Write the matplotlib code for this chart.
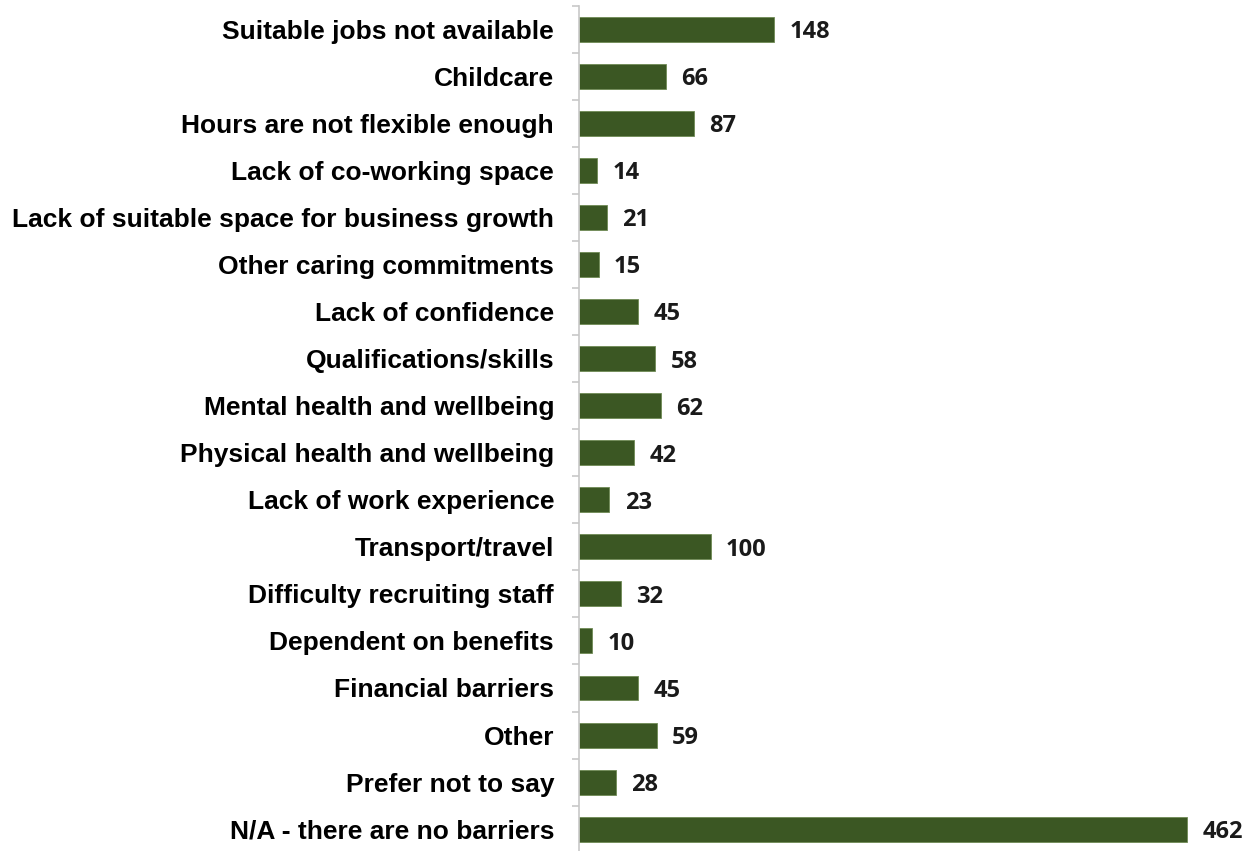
import matplotlib.pyplot as plt
import numpy as np

# Barriers to work - number of responses
categories = [
    "Suitable jobs not available",
    "Childcare",
    "Hours are not flexible enough",
    "Lack of co-working space",
    "Lack of suitable space for business growth",
    "Other caring commitments",
    "Lack of confidence",
    "Qualifications/skills",
    "Mental health and wellbeing",
    "Physical health and wellbeing",
    "Lack of work experience",
    "Transport/travel",
    "Difficulty recruiting staff",
    "Dependent on benefits",
    "Financial barriers",
    "Other",
    "Prefer not to say",
    "N/A - there are no barriers",
]
counts = [148, 66, 87, 14, 21, 15, 45, 58, 62, 42, 23, 100, 32, 10, 45, 59, 28, 462]

fig = plt.figure(figsize=(12.55, 8.51), dpi=100)
ax = fig.add_axes([0.4614, -0.002, 0.5243, 0.9955])

y = np.arange(len(categories))
ax.barh(y, counts, height=0.53, color="#3b5723", edgecolor="#6f8a55", linewidth=0.6)

for yi, v in zip(y, counts):
    ax.annotate(str(v), (v, yi), xytext=(11, 0), textcoords="offset points",
                va="center_baseline", ha="left", fontsize=17, fontweight="bold",
                family="Open Sans", color="#1a1a1a")

ax.set_ylim(len(categories) - 0.5, -0.5)
ax.set_xlim(0, 500)
ax.set_yticks(y)
ax.set_yticklabels(categories, fontsize=19, fontweight="bold", family="Liberation Sans")
ax.tick_params(axis="y", which="major", length=0, pad=18)
ax.set_yticks(np.arange(-0.5, len(categories), 1), minor=True)
ax.tick_params(axis="y", which="minor", length=5, color="#c8c8c8", width=1.2)
ax.set_xticks([])

for s in ["top", "right", "bottom"]:
    ax.spines[s].set_visible(False)
ax.spines["left"].set_color("#c8c8c8")
ax.spines["left"].set_linewidth(1.2)

fig.savefig("out.png", dpi=100)
